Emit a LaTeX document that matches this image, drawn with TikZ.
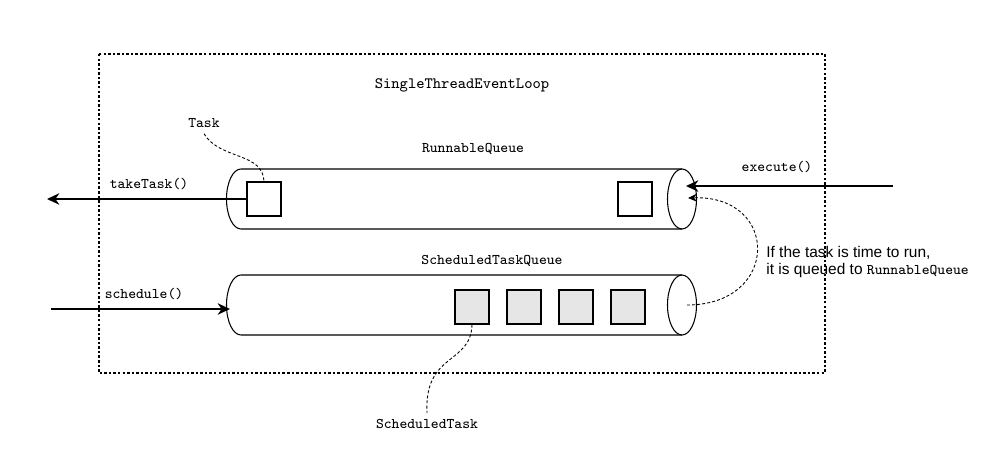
\documentclass[tikz,border=0pt]{standalone}
\usepackage{fontspec}
\setmainfont{Liberation Sans}
\usetikzlibrary{arrows.meta}
\definecolor{boxgray}{RGB}{230,230,230}
\tikzset{
  lbl/.style={font=\ttfamily\fontsize{8.4pt}{9pt}\selectfont},
  note/.style={font=\fontsize{8.8pt}{10pt}\selectfont, inner sep=0pt},
  queue/.style={line width=0.6pt},
  task/.style={draw, line width=0.6pt, minimum size=0.68cm, inner sep=0pt, fill=white},
  stask/.style={task, fill=boxgray},
  call/.style={line width=1.1pt, -{Stealth[length=7pt,width=6.5pt,inset=2.2pt]}},
  hint/.style={line width=0.5pt, dash pattern=on 1.7pt off 1.2pt},
}
\begin{document}
\begin{tikzpicture}[x=0.02cm, y=-0.02cm]
    \useasboundingbox (0,0) rectangle (992,470);
    \draw[line width=0.6pt, dash pattern=on 1.4pt off 1.2pt] (99,54) rectangle (825,373);
    \node[lbl, font=\ttfamily\fontsize{9pt}{10pt}\selectfont] (loop) at (462,85) {SingleThreadEventLoop};
    % runnable queue
    \draw[queue] (682,169) -- (241,169) arc[start angle=-90, end angle=-270, x radius=14.5, y radius=30] -- (682,229);
    \draw[queue] (682,199) ellipse [x radius=14.5, y radius=30];
    \node[lbl] (rq) at (473,149) {RunnableQueue};
    \node[task] (t1) at (264,199) {};
    \node[task] (t2) at (635,199) {};
    % scheduled task queue
    \draw[queue] (682,275) -- (241,275) arc[start angle=-90, end angle=-270, x radius=14.5, y radius=30] -- (682,335);
    \draw[queue] (682,305) ellipse [x radius=14.5, y radius=30];
    \node[lbl] (sq) at (492,261) {ScheduledTaskQueue};
    \node[stask] (s1) at (472,307) {};
    \node[stask] (s2) at (524,307) {};
    \node[stask] (s3) at (576,307) {};
    \node[stask] (s4) at (628,307) {};
    % ends of the calls
    \coordinate (out) at (47,199);
    \coordinate (in) at (51,309);
    \coordinate (sqin) at (230,309);
    \coordinate (ex) at (893,186);
    \coordinate (rqin) at (686,186);
    \coordinate (rqend) at (688,198);
    \coordinate (sqend) at (687,305);
    \draw[call] (t1.west) -- (out);
    \node[lbl] (take) at (149,184) {takeTask()};
    \draw[call] (in) -- (sqin);
    \node[lbl] (sched) at (144,294) {schedule()};
    \draw[call] (ex) -- (rqin);
    \node[lbl] (exec) at (777,167) {execute()};
    % tasks
    \node[lbl] (tl) at (204,123) {Task};
    \draw[hint] (tl.south) .. controls (220,160) and (263,152) .. (t1.north);
    \node[lbl] (stl) at (427,424) {ScheduledTask};
    \draw[hint] (s1.south) .. controls (471,365) and (424,352) .. (stl.north);
    \draw[hint, -{Stealth[length=5pt,width=4.5pt,inset=1.5pt]}] (sqend) .. controls (780,305) and (780,195) .. (rqend);
    \node[note, anchor=base west] (n1) at (766,257) {If the task is time to run,};
    \node[note, anchor=base west] (n2) at (766,274) {it is queued to {\ttfamily\fontsize{8.4pt}{9pt}\selectfont RunnableQueue}};
\end{tikzpicture}
\end{document}
